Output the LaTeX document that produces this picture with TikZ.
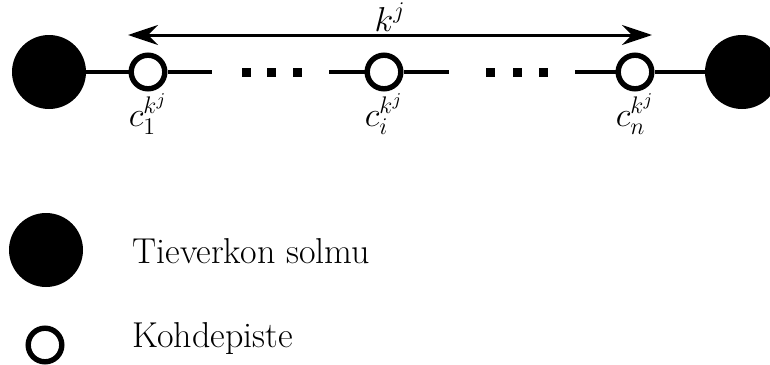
\documentclass[tikz,border=0pt]{standalone}
\usetikzlibrary{arrows.meta}
\begin{document}
\begin{tikzpicture}[x=0.5pt,y=-0.5pt,
  every node/.style={font=\fontsize{18}{22}\selectfont},
  solmu/.style={circle,fill=black,inner sep=0pt,minimum size=37pt},
  kohde/.style={circle,draw=black,line width=2.7pt,fill=white,inner sep=0pt,minimum size=16.8pt},
  tie/.style={line width=2pt},
  kaari/.style={line width=1.5pt,{Stealth[length=15pt,width=10pt,inset=5pt]}-{Stealth[length=15pt,width=10pt,inset=5pt]}}]
\useasboundingbox (0,0) rectangle (770,364);

\node[solmu] (v1) at (49,72) {};
\node[solmu] (v2) at (742,72) {};
\node[kohde] (c1) at (148,72) {};
\node[kohde] (ci) at (384,72) {};
\node[kohde] (cn) at (635,72) {};

\coordinate (a1) at (212,72);
\coordinate (a2) at (329,72);
\coordinate (a3) at (449,72);
\coordinate (a4) at (575,72);

\draw[tie] (v1) -- (c1);
\draw[tie] (c1) -- (a1);
\draw[tie] (a2) -- (ci);
\draw[tie] (ci) -- (a3);
\draw[tie] (a4) -- (cn);
\draw[tie] (cn) -- (v2);

\foreach \x in {246,271,297,490,517,543}
  \fill (\x-4.5,67.5) rectangle (\x+4.5,76.5);

\coordinate (k1) at (128,35);
\coordinate (k2) at (652,35);
\draw[kaari] (k1) -- (k2) node[midway,anchor=south,inner sep=1pt] (k) {$k^j$};

\node (l1) at (148,114) {$c_1^{k^j}$};
\node (li) at (384,114) {$c_i^{k^j}$};
\node (ln) at (635,114) {$c_n^{k^j}$};

\node[solmu] (s) at (46,250) {};
\node[kohde] (p) at (45,345) {};
\node[anchor=base west,inner sep=0pt] (ts) at (132,263) {Tieverkon solmu};
\node[anchor=base west,inner sep=0pt] (tp) at (132,347) {Kohdepiste};
\end{tikzpicture}
\end{document}
